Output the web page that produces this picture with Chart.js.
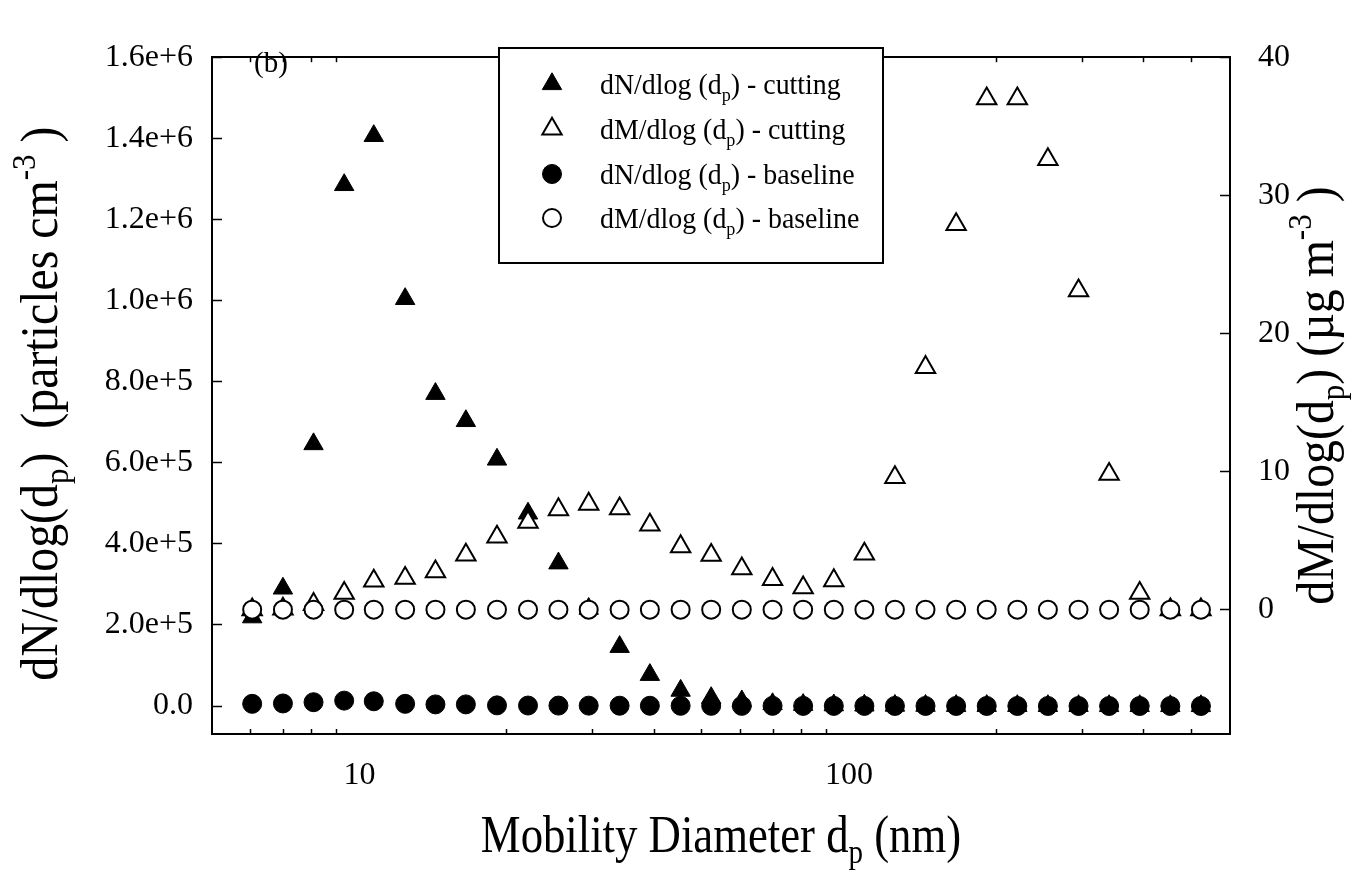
<!DOCTYPE html>
<html>
<head>
<meta charset="utf-8">
<title>Size distribution - cutting vs baseline</title>
<script src="https://cdn.jsdelivr.net/npm/chart.js@4/dist/chart.umd.min.js"></script>
<style>
  html, body { margin: 0; padding: 0; background: #fff; }
  #wrap { width: 1368px; height: 880px; position: relative; }
</style>
</head>
<body>
<div id="wrap"><canvas id="chart"></canvas></div>
<script>
"use strict";

// mobility diameter channels (nm)
var diameters = [6.04, 6.98, 8.06, 9.31, 10.7, 12.4, 14.3, 16.5, 19.1, 22.1, 25.5, 29.4,
    34.0, 39.2, 45.3, 52.3, 60.4, 69.8, 80.6, 93.1, 107.5, 124.1, 143.3, 165.5,
    191.1, 220.7, 254.8, 294.3, 339.8, 392.4, 453.2, 523.3];

// dN/dlog(dp), particles cm-3 (left axis)
var dnCutting = [219000, 290000, 646000, 1285000, 1406000, 1004000, 770000, 703000, 608000,
    475000, 352000, 240000, 146000, 77000, 38000, 20000, 12000, 5000, 3000, 2000,
    1500, 1000, 800, 600, 500, 400, 300, 300, 200, 200, 100, 100];
var dnBaseline = [5400, 6300, 9400, 13300, 11700, 5400, 4000, 4000, 1600, 1200, 1000, 900,
    800, 700, 600, 500, 400, 400, 300, 300, 300, 200, 200, 200,
    200, 100, 100, 100, 100, 100, 100, 100];

// dM/dlog(dp), ug m-3 (right axis)
var dmCutting = [0.0, 0.05, 0.39, 1.2, 2.08, 2.28, 2.75, 3.97, 5.27, 6.34, 7.25, 7.65,
    7.31, 6.14, 4.57, 3.95, 2.97, 2.2, 1.59, 2.11, 4.04, 9.57, 17.55, 27.9,
    37.0, 37.0, 32.6, 23.1, 9.81, 1.19, 0.0, 0.0];
var dmBaseline = [0, 0, 0, 0, 0, 0, 0, 0, 0, 0, 0, 0, 0, 0, 0, 0,
    0, 0, 0, 0, 0, 0, 0, 0, 0, 0, 0, 0, 0, 0, 0, 0];

var seriesLabels = [
    "dN/dlog (d_{p}) - cutting",
    "dM/dlog (d_{p}) - cutting",
    "dN/dlog (d_{p}) - baseline",
    "dM/dlog (d_{p}) - baseline"
];

var xTicks = [6, 7, 8, 9, 10, 20, 30, 40, 50, 60, 70, 80, 90, 100, 200, 300, 400, 500];
var xLabelled = [10, 100];
var yLeftTicks = [0, 200000, 400000, 600000, 800000, 1000000, 1200000, 1400000, 1600000];
var yRightTicks = [0, 10, 20, 30, 40];

var xTitle = "Mobility Diameter d_{p} (nm)";
var yLeftTitle = "dN/dlog(d_{p})  (particles cm^{-3} )";
var yRightTitle = "dM/dlog(d_{p}) (\u00b5g m^{-3} )";
var panelLabel = "(b)";

var FONT = "'Liberation Serif', 'Times New Roman', serif";
Chart.defaults.font.family = FONT;
Chart.defaults.color = "#000";

function points(ys) {
    return diameters.map(function (d, i) { return {x: d, y: ys[i]}; });
}

function fixTicks(values) {
    return function (scale) {
        scale.ticks = values.map(function (v) { return {value: v}; });
    };
}

// tiny markup: _{sub} and ^{sup}
function parseRich(str) {
    var parts = [], re = /([_^])\{([^}]*)\}/g, last = 0, m;
    while ((m = re.exec(str))) {
        if (m.index > last) parts.push({t: str.slice(last, m.index), k: ""});
        parts.push({t: m[2], k: m[1]});
        last = re.lastIndex;
    }
    if (last < str.length) parts.push({t: str.slice(last), k: ""});
    return parts;
}

function drawRich(ctx, str, size, align) {
    var parts = parseRich(str);
    var widths = parts.map(function (p) {
        ctx.font = (p.k ? size * 0.65 : size) + "px " + FONT;
        return ctx.measureText(p.t).width;
    });
    var total = widths.reduce(function (a, b) { return a + b; }, 0);
    var x = align === "center" ? -total / 2 : 0;
    ctx.textBaseline = "alphabetic";
    ctx.textAlign = "left";
    parts.forEach(function (p, i) {
        ctx.font = (p.k ? size * 0.65 : size) + "px " + FONT;
        var dy = p.k === "_" ? size * 0.22 : (p.k === "^" ? -size * 0.42 : 0);
        ctx.fillText(p.t, x, dy);
        x += widths[i];
    });
}

var textPlugin = {
    id: "figureText",
    afterDraw: function (chart) {
        var ctx = chart.ctx, area = chart.chartArea;
        var midY = (area.top + area.bottom) / 2;
        ctx.save();
        ctx.fillStyle = "#000";

        // x title
        ctx.save();
        ctx.translate((area.left + area.right) / 2, 852);
        ctx.scale(0.86, 1);
        drawRich(ctx, xTitle, 52, "center");
        ctx.restore();

        // left title
        ctx.save();
        ctx.translate(57, midY + 8);
        ctx.rotate(-Math.PI / 2);
        ctx.scale(0.92, 1);
        drawRich(ctx, yLeftTitle, 52, "center");
        ctx.restore();

        // right title
        ctx.save();
        ctx.translate(1333, midY);
        ctx.rotate(-Math.PI / 2);
        ctx.scale(0.92, 1);
        drawRich(ctx, yRightTitle, 52, "center");
        ctx.restore();

        // panel label
        ctx.save();
        ctx.translate(271, 72);
        drawRich(ctx, panelLabel, 29, "center");
        ctx.restore();

        // legend box
        var box = {l: 499, t: 48, r: 883, b: 263};
        ctx.fillStyle = "#fff";
        ctx.fillRect(box.l, box.t, box.r - box.l, box.b - box.t);
        ctx.strokeStyle = "#000";
        ctx.lineWidth = 2;
        ctx.strokeRect(box.l, box.t, box.r - box.l, box.b - box.t);

        var rowY = [84, 129, 174, 218];
        chart.data.datasets.forEach(function (ds, i) {
            var y = rowY[i];
            ctx.fillStyle = ds.backgroundColor;
            ctx.strokeStyle = ds.borderColor;
            ctx.lineWidth = ds.borderWidth;
            Chart.helpers.drawPoint(ctx, {
                pointStyle: ds.pointStyle, radius: ds.pointRadius,
                borderWidth: ds.borderWidth, rotation: 0
            }, 552, y);
            ctx.fillStyle = "#000";
            ctx.save();
            ctx.translate(600, y + 10);
            ctx.scale(0.93, 1);
            drawRich(ctx, ds.label, 30, "left");
            ctx.restore();
        });
        ctx.restore();
    }
};

var ctx = document.getElementById("chart").getContext("2d");

var myChart = new Chart(ctx, {
    type: "scatter",
    data: {
        datasets: [
            {
                label: seriesLabels[0], data: points(dnCutting), yAxisID: "yL", xAxisID: "x",
                pointStyle: "triangle", pointRadius: 11.2, pointHoverRadius: 11.2,
                backgroundColor: "#000", borderColor: "#000", borderWidth: 1, order: 4
            },
            {
                label: seriesLabels[1], data: points(dmCutting), yAxisID: "yR", xAxisID: "x",
                pointStyle: "triangle", pointRadius: 11.2, pointHoverRadius: 11.2,
                backgroundColor: "#fff", borderColor: "#000", borderWidth: 2, order: 3
            },
            {
                label: seriesLabels[2], data: points(dnBaseline), yAxisID: "yL", xAxisID: "x",
                pointStyle: "circle", pointRadius: 9.5, pointHoverRadius: 9.5,
                backgroundColor: "#000", borderColor: "#000", borderWidth: 1, order: 2
            },
            {
                label: seriesLabels[3], data: points(dmBaseline), yAxisID: "yR", xAxisID: "x",
                pointStyle: "circle", pointRadius: 9, pointHoverRadius: 9,
                backgroundColor: "#fff", borderColor: "#000", borderWidth: 2, order: 1
            }
        ]
    },
    options: {
        responsive: true,
        maintainAspectRatio: false,
        animation: false,
        events: [],
        layout: {padding: 0},
        plugins: {
            legend: {display: false},
            tooltip: {enabled: false}
        },
        scales: {
            x: {
                type: "logarithmic", position: "bottom", min: 5, max: 600,
                afterBuildTicks: fixTicks(xTicks),
                afterFit: function (s) { s.height = 146; },
                border: {display: true, color: "#000", width: 2},
                grid: {
                    drawOnChartArea: false, drawTicks: true, tickLength: -5, tickWidth: 1.5,
                    tickColor: function (c) {
                        return (c.tick && xLabelled.indexOf(c.tick.value) >= 0) ? "rgba(0,0,0,0)" : "#000";
                    }
                },
                ticks: {
                    autoSkip: false, maxRotation: 0, minRotation: 0, padding: 27,
                    font: {size: 32},
                    callback: function (v) { return xLabelled.indexOf(v) >= 0 ? String(v) : ""; }
                }
            },
            xTop: {
                type: "logarithmic", position: "top", min: 5, max: 600,
                afterBuildTicks: fixTicks(xTicks),
                afterFit: function (s) { s.height = 22; },
                border: {display: true, color: "#000", width: 2},
                grid: {
                    drawOnChartArea: false, drawTicks: true, tickLength: -5, tickWidth: 1.5,
                    tickColor: function (c) {
                        return (c.tick && xLabelled.indexOf(c.tick.value) >= 0) ? "rgba(0,0,0,0)" : "#000";
                    }
                },
                ticks: {display: false, autoSkip: false}
            },
            yL: {
                type: "linear", position: "left", min: -69000, max: 1600000,
                afterBuildTicks: fixTicks(yLeftTicks),
                afterFit: function (s) { s.width = 212; },
                border: {display: true, color: "#000", width: 2},
                grid: {drawOnChartArea: false, drawTicks: true, tickLength: -10, tickWidth: 1.5, tickColor: "#000"},
                ticks: {
                    padding: 29, font: {size: 32},
                    callback: function (v) { return v === 0 ? "0.0" : v.toExponential(1); }
                }
            },
            yR: {
                type: "linear", position: "right", min: -9.0, max: 40,
                afterBuildTicks: fixTicks(yRightTicks),
                afterFit: function (s) { s.width = 138; },
                border: {display: true, color: "#000", width: 2},
                grid: {drawOnChartArea: false, drawTicks: true, tickLength: -10, tickWidth: 1.5, tickColor: "#000"},
                ticks: {
                    padding: 38, font: {size: 32},
                    callback: function (v) { return String(v); }
                }
            }
        }
    },
    plugins: [textPlugin]
});
</script>
</body>
</html>
